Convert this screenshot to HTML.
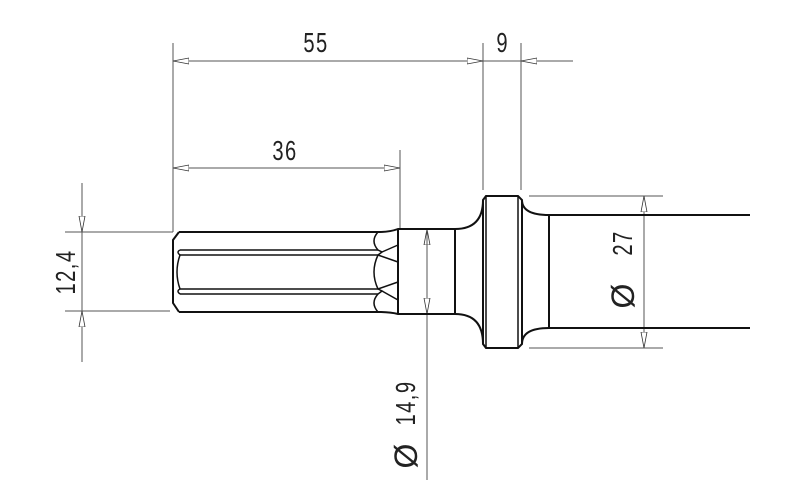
<!DOCTYPE html>
<html><head><style>body{margin:0;background:#fff}svg{display:block}</style></head><body>
<svg width="800" height="498" viewBox="0 0 800 498" xmlns="http://www.w3.org/2000/svg">
<defs>
<marker id="a" viewBox="0 0 16 8" refX="16" refY="4" markerWidth="16" markerHeight="8" markerUnits="userSpaceOnUse" orient="auto-start-reverse"><path d="M0,1 L16,4 L0,7 Z" fill="#fff" stroke="#333" stroke-width="0.8"/></marker>
</defs>
<g stroke="#555" stroke-width="1" fill="none">
<line x1="173" y1="43" x2="173" y2="232"/>
<line x1="173" y1="232" x2="165" y2="232"/>
<line x1="400" y1="150" x2="400" y2="230"/>
<line x1="483" y1="43" x2="483" y2="190"/>
<line x1="521" y1="43" x2="521" y2="190"/>
<line x1="529" y1="196" x2="663" y2="196"/>
<line x1="529" y1="348" x2="663" y2="348"/>
<line x1="65" y1="232" x2="170" y2="232"/>
<line x1="65" y1="311" x2="170" y2="311"/>
<line x1="173" y1="61" x2="483" y2="61" marker-start="url(#a)" marker-end="url(#a)"/>
<line x1="483" y1="61" x2="521" y2="61"/>
<line x1="573" y1="61" x2="521" y2="61" marker-end="url(#a)"/>
<line x1="173" y1="168" x2="400" y2="168" marker-start="url(#a)" marker-end="url(#a)"/>
<line x1="82" y1="183" x2="82" y2="232" marker-end="url(#a)"/>
<line x1="82" y1="232" x2="82" y2="311"/>
<line x1="82" y1="362" x2="82" y2="311" marker-end="url(#a)"/>
<line x1="427" y1="480" x2="427" y2="229" marker-end="url(#a)"/>
<line x1="427" y1="314" x2="427" y2="229" marker-start="url(#a)"/>
<line x1="644" y1="196" x2="644" y2="348" marker-start="url(#a)" marker-end="url(#a)"/>
</g>
<g stroke="#111" stroke-width="2" fill="none">
<path d="M179,232 L378,232 Q390,232 398,229 L455,229 Q483,229 483,200 L486,196 L518,196 L522,200 Q522,215 549,215 L750,215"/>
<path d="M179,312 L378,312 Q390,312 398,314 L455,314 Q483,314 483,344 L486,348 L518,348 L522,344 Q522,328 549,328 L750,328"/>
<path d="M179,232 L173,240 L173,303 L179,312"/>
<line x1="398" y1="229" x2="398" y2="314"/>
<line x1="455" y1="229" x2="455" y2="314"/>
<line x1="483" y1="200" x2="483" y2="344"/>
<line x1="522" y1="200" x2="522" y2="344"/>
<line x1="549" y1="215" x2="549" y2="328"/>
<g stroke-width="1.5">
<line x1="486" y1="196" x2="486" y2="348"/>
<line x1="518" y1="196" x2="518" y2="348"/>
<line x1="180" y1="250" x2="378" y2="250"/>
<line x1="180" y1="255" x2="378" y2="255"/>
<line x1="180" y1="289" x2="378" y2="289"/>
<line x1="180" y1="294" x2="378" y2="294"/>
<path d="M180,250 Q176,252 180,255"/>
<path d="M180,289 Q176,291 180,294"/>
<path d="M180,255 Q174,272 180,289"/>
<path d="M378,232 Q370,241 378,250 L382,252 L378,255 Q370,272 378,289 L382,291 L378,294 Q370,303 378,312"/>
<path d="M382,252 L398,245 M378,255 L398,262 M378,289 L398,282 M382,291 L398,300"/>
</g>
</g>
<g font-family="Liberation Sans, sans-serif" font-size="28" fill="#222" text-anchor="middle">
<text transform="translate(316,52) scale(0.72,1)" letter-spacing="2">55</text>
<text transform="translate(502,52) scale(0.72,1)">9</text>
<text transform="translate(285,160) scale(0.72,1)" letter-spacing="2">36</text>
<text transform="translate(75,272) rotate(-90) scale(0.72,1)" letter-spacing="2">12,4</text>
<text transform="translate(415,403) rotate(-90) scale(0.72,1)" letter-spacing="2">14,9</text>
<text transform="translate(417,456) rotate(-90)" font-size="32">Ø</text>
<text transform="translate(632,243) rotate(-90) scale(0.72,1)" letter-spacing="2">27</text>
<text transform="translate(634,296) rotate(-90)" font-size="32">Ø</text>
</g>
</svg>
</body></html>
